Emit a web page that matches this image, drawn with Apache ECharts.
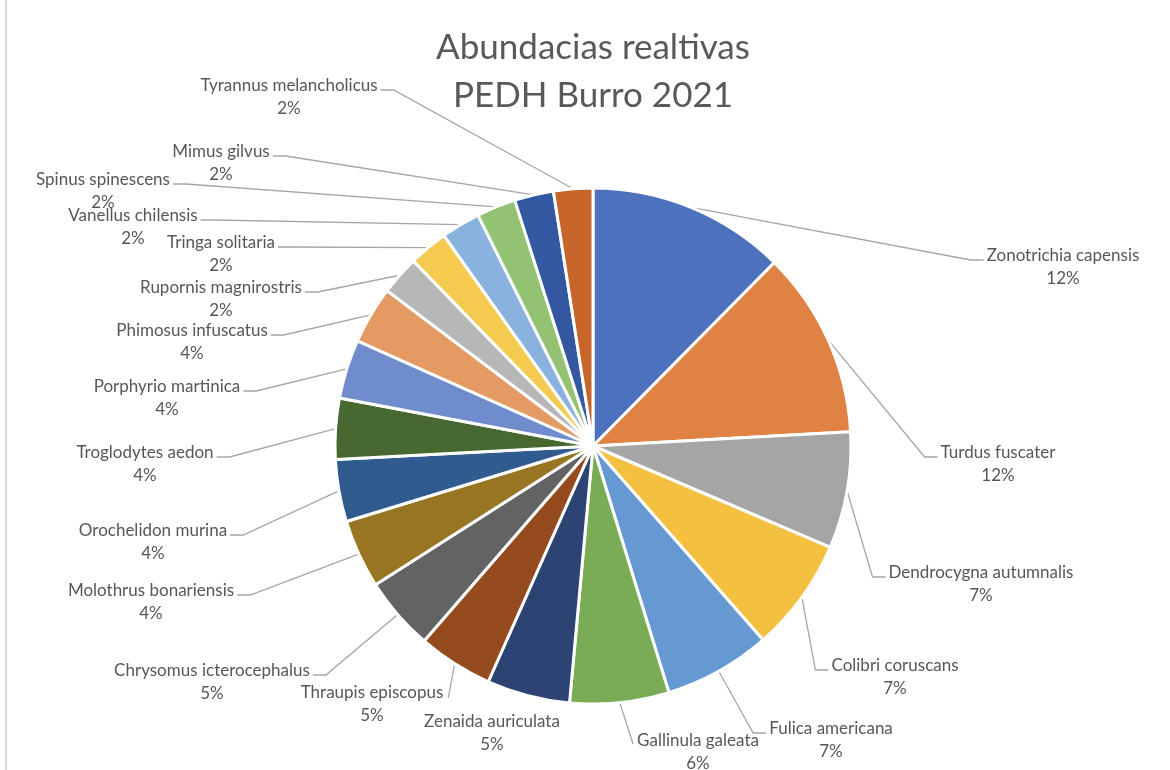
<!DOCTYPE html>
<html>
<head>
<meta charset="utf-8">
<script src="https://cdn.jsdelivr.net/npm/echarts@6/dist/echarts.min.js"></script>
<style>
html,body{margin:0;padding:0;background:#ffffff;}
#chart{width:1170px;height:770px;}
</style>
</head>
<body>
<div id="chart"></div>
<script>
// ---------- data ----------
const titleLines = ['Abundacias realtivas', 'PEDH Burro 2021'];

const species = [
  'Zonotrichia capensis', 'Turdus fuscater', 'Dendrocygna autumnalis', 'Colibri coruscans',
  'Fulica americana', 'Gallinula galeata', 'Zenaida auriculata', 'Thraupis episcopus',
  'Chrysomus icterocephalus', 'Molothrus bonariensis', 'Orochelidon murina', 'Troglodytes aedon',
  'Porphyrio martinica', 'Phimosus infuscatus', 'Rupornis magnirostris', 'Tringa solitaria',
  'Vanellus chilensis', 'Spinus spinescens', 'Mimus gilvus', 'Tyrannus melancholicus'
];

// relative abundance (%)
const abundance = [12.4, 11.7, 7.3, 7.1, 6.7, 6.2, 5.2, 4.7, 4.6, 4.3, 3.9, 3.8, 3.7, 3.6, 2.45, 2.45, 2.45, 2.45, 2.45, 2.45];

// ---------- styling / layout ----------
const sliceColors = [
  '#4E71BE', '#DF8244', '#A5A5A5', '#F3C040', '#6699D2', '#7AAC55', '#2D4373', '#954B1E',
  '#636363', '#977523', '#2F5B8E', '#476831', '#6F8DCD', '#E59A63', '#B7B7B7', '#F5CB4F',
  '#8AB2DF', '#93C272', '#3357A0', '#C8652A'
];

// label anchors: [centre x, name-line centre y, leader mode]
// mode: R = tail on left of label, L = tail on right, RD/LD = direct line, N = no line
const labelSpots = [
  [1063, 256, 'R'], [998, 453, 'R'], [981, 573, 'R'], [895, 666, 'R'], [831, 729, 'R'],
  [698, 741, 'RD'], [492, 722, 'N'], [372, 693, 'LD'], [212, 671, 'L'], [151, 591, 'L'],
  [153, 531, 'L'], [145, 453, 'L'], [167, 387, 'L'], [192, 331, 'L'], [221, 288, 'L'],
  [221, 243, 'L'], [133, 216, 'L'], [103, 180, 'L'], [221, 152, 'L'], [289, 86, 'L']
];

const FONT = 'Lato';
const TEXT_COLOR = '#575757';
const LINE_H = 22.5;
const total = abundance.reduce((a, b) => a + b, 0);

const seriesData = species.map((name, i) => ({
  name: name,
  value: abundance[i],
  itemStyle: { color: sliceColors[i] },
  labelLine: { show: labelSpots[i][2] !== 'N' }
}));

const chart = echarts.init(document.getElementById('chart'), null, { renderer: 'canvas' });

chart.setOption({
  animation: false,
  backgroundColor: '#ffffff',
  title: {
    text: titleLines.join('\n'),
    left: 588,
    textAlign: 'center',
    top: 19,
    textStyle: {
      fontFamily: FONT,
      fontSize: 35,
      fontWeight: 'normal',
      color: '#595959',
      lineHeight: 48
    }
  },
  graphic: [{
    type: 'line',
    shape: { x1: 6, y1: 0, x2: 6, y2: 770 },
    style: { stroke: '#D9D9D9', lineWidth: 2 },
    silent: true
  }],
  series: [{
    type: 'pie',
    center: [593, 446],
    radius: 258,
    startAngle: 90,
    clockwise: true,
    avoidLabelOverlap: false,
    emphasis: { disabled: true },
    itemStyle: { borderColor: '#ffffff', borderWidth: 3 },
    label: {
      show: true,
      position: 'outside',
      fontFamily: FONT,
      fontSize: 17,
      color: TEXT_COLOR,
      lineHeight: LINE_H,
      align: 'center',
      formatter: p => p.name + '\n' + Math.round(p.value / total * 100) + '%'
    },
    labelLine: {
      show: true,
      length: 20,
      length2: 10,
      smooth: false,
      lineStyle: { color: '#A6A6A6', width: 1.3 }
    },
    labelLayout: function (p) {
      const spot = labelSpots[p.dataIndex];
      const cx = spot[0], cy = spot[1], mode = spot[2];
      const w = p.labelRect.width;
      const left = cx - w / 2, right = cx + w / 2;
      const res = { x: cx, y: cy - LINE_H / 2, align: 'center', verticalAlign: 'top' };
      const pts = p.labelLinePoints;
      if (pts && mode !== 'N') {
        const s = pts[0];
        const ty = cy + 4;
        let line;
        if (mode === 'R') line = [s, [left - 16, ty], [left - 3, ty]];
        else if (mode === 'L') line = [s, [right + 16, ty], [right + 3, ty]];
        else if (mode === 'RD') line = [s, [left - 4, cy + 3], [left - 4, cy + 3]];
        else line = [s, [right + 5, cy + 5], [right + 5, cy + 5]];
        res.labelLinePoints = line;
      }
      return res;
    },
    data: seriesData
  }]
});
</script>
</body>
</html>
